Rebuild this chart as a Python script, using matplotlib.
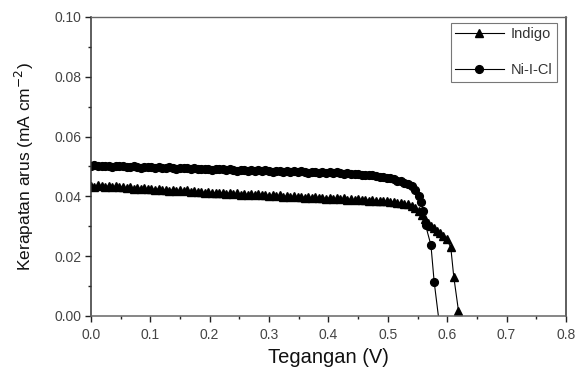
import matplotlib
matplotlib.use("Agg")
import matplotlib.pyplot as plt
from matplotlib.ticker import MultipleLocator

plt.rcParams['font.family'] = ['Liberation Sans', 'DejaVu Sans']

# Voltage sweep (V)
v_flat = [0.000, 0.006, 0.012, 0.018, 0.024, 0.030, 0.036, 0.042, 0.048, 0.054,
          0.060, 0.066, 0.072, 0.078, 0.084, 0.090, 0.096, 0.102, 0.108, 0.114,
          0.120, 0.126, 0.132, 0.138, 0.144, 0.150, 0.156, 0.162, 0.168, 0.174,
          0.180, 0.186, 0.192, 0.198, 0.204, 0.210, 0.216, 0.222, 0.228, 0.234,
          0.240, 0.246, 0.252, 0.258, 0.264, 0.270, 0.276, 0.282, 0.288, 0.294,
          0.300, 0.306, 0.312, 0.318, 0.324, 0.330, 0.336, 0.342, 0.348, 0.354,
          0.360, 0.366, 0.372, 0.378, 0.384, 0.390, 0.396, 0.402, 0.408, 0.414,
          0.420, 0.426, 0.432, 0.438, 0.444, 0.450, 0.456, 0.462, 0.468, 0.474,
          0.480, 0.486, 0.492, 0.498, 0.504, 0.510, 0.516, 0.522, 0.528, 0.534,
          0.540, 0.546, 0.552]

niicl_v_tail = [0.556, 0.560, 0.5635, 0.5726, 0.578, 0.587]
niicl_j = [0.0502, 0.0504, 0.0501, 0.0503, 0.0500, 0.0502, 0.0499, 0.0502, 0.0500, 0.0501,
           0.0499, 0.0497, 0.0500, 0.0498, 0.0496, 0.0499, 0.0497, 0.0499, 0.0496, 0.0498,
           0.0496, 0.0494, 0.0497, 0.0495, 0.0493, 0.0496, 0.0494, 0.0496, 0.0493, 0.0495,
           0.0492, 0.0490, 0.0493, 0.0491, 0.0489, 0.0492, 0.0490, 0.0492, 0.0489, 0.0491,
           0.0489, 0.0486, 0.0489, 0.0487, 0.0485, 0.0488, 0.0486, 0.0489, 0.0486, 0.0487,
           0.0485, 0.0483, 0.0486, 0.0484, 0.0482, 0.0485, 0.0483, 0.0485, 0.0482, 0.0484,
           0.0481, 0.0479, 0.0482, 0.0480, 0.0478, 0.0481, 0.0479, 0.0481, 0.0478, 0.0480,
           0.0478, 0.0476, 0.0478, 0.0476, 0.0474, 0.0475, 0.0473, 0.0473, 0.0470, 0.0470,
           0.0468, 0.0466, 0.0465, 0.0462, 0.0460, 0.0457, 0.0453, 0.0450, 0.0446, 0.0441,
           0.0434, 0.0422, 0.0402,
           0.0380, 0.0350, 0.0304, 0.0237, 0.0115, -0.0030]

indigo_v_tail = [0.557, 0.562, 0.567, 0.572, 0.577, 0.582, 0.588, 0.5935, 0.599,
                 0.606, 0.611, 0.619, 0.629]
indigo_j = [0.0436, 0.0433, 0.0437, 0.0434, 0.0431, 0.0435, 0.0432, 0.0434, 0.0430, 0.0432,
            0.0428, 0.0430, 0.0426, 0.0429, 0.0425, 0.0427, 0.0424, 0.0426, 0.0422, 0.0425,
            0.0421, 0.0423, 0.0419, 0.0422, 0.0418, 0.0420, 0.0417, 0.0420, 0.0416, 0.0418,
            0.0414, 0.0416, 0.0412, 0.0415, 0.0411, 0.0413, 0.0410, 0.0413, 0.0409, 0.0411,
            0.0408, 0.0410, 0.0406, 0.0409, 0.0405, 0.0408, 0.0404, 0.0407, 0.0403, 0.0405,
            0.0402, 0.0404, 0.0400, 0.0403, 0.0399, 0.0401, 0.0398, 0.0401, 0.0397, 0.0399,
            0.0396, 0.0398, 0.0394, 0.0397, 0.0393, 0.0395, 0.0392, 0.0395, 0.0391, 0.0393,
            0.0391, 0.0393, 0.0389, 0.0391, 0.0388, 0.0390, 0.0387, 0.0389, 0.0386, 0.0388,
            0.0385, 0.0386, 0.0383, 0.0384, 0.0381, 0.0382, 0.0379, 0.0378, 0.0375, 0.0373,
            0.0368, 0.0360, 0.0350,
            0.0338, 0.0325, 0.0312, 0.0301, 0.0293, 0.0285, 0.0277, 0.0268, 0.0256,
            0.0230, 0.0132, 0.0017, -0.0020]

series_labels = ["Indigo", "Ni-I-Cl"]
x_ticks = [0.0, 0.1, 0.2, 0.3, 0.4, 0.5, 0.6, 0.7, 0.8]
y_ticks = [0.00, 0.02, 0.04, 0.06, 0.08, 0.10]

fig = plt.figure(figsize=(5.79, 3.67), dpi=100)
ax = fig.add_axes([0.157, 0.139, 0.8205, 0.8147])

ax.plot(v_flat + indigo_v_tail, indigo_j, color='black', lw=0.8, marker='^',
        ms=6.0, mec='black', mfc='black', label=series_labels[0], clip_on=True)
ax.plot(v_flat + niicl_v_tail, niicl_j, color='black', lw=0.8, marker='o',
        ms=5.6, mec='black', mfc='black', label=series_labels[1], clip_on=True)

ax.set_xlim(0.0, 0.8)
ax.set_ylim(0.0, 0.10)
ax.set_xticks(x_ticks)
ax.set_yticks(y_ticks)
ax.set_xticklabels([f"{t:.1f}" for t in x_ticks])
ax.set_yticklabels([f"{t:.2f}" for t in y_ticks])
ax.xaxis.set_minor_locator(MultipleLocator(0.05))
ax.yaxis.set_minor_locator(MultipleLocator(0.01))
ax.tick_params(axis='x', which='major', direction='out', length=4, width=1.0,
               labelsize=10, colors='#222222', labelcolor='#444444', pad=5)
ax.tick_params(axis='x', which='minor', direction='out', length=2.5, width=1.0, colors='#222222')
ax.tick_params(axis='y', which='major', direction='out', length=4, width=1.0,
               labelsize=10, colors='#222222', labelcolor='#444444', pad=3)
ax.tick_params(axis='y', which='minor', direction='out', length=2.5, width=1.0, colors='#222222')
for s in ['left', 'bottom', 'right']:
    ax.spines[s].set_linewidth(1.1)
    ax.spines[s].set_color('#333333')
ax.spines['bottom'].set_color('#666666')
ax.spines['top'].set_linewidth(1.0)
ax.spines['top'].set_color('#666666')

ax.set_xlabel("Tegangan (V)", fontsize=14.5, labelpad=4, color='#111111')
ax.set_ylabel("Kerapatan arus (mA cm$^{-2}$)", fontsize=12.5, labelpad=13, color='#111111')

leg = ax.legend(loc='upper right', bbox_to_anchor=(0.981, 0.98), borderaxespad=0,
                fontsize=10.5, frameon=True, fancybox=False, edgecolor='#555555',
                labelspacing=1.5, handlelength=3.3, borderpad=0.3, handletextpad=0.5)
leg.get_frame().set_linewidth(0.8)
for t in leg.get_texts():
    t.set_color('#333333')

fig.savefig("out.png", dpi=100)
